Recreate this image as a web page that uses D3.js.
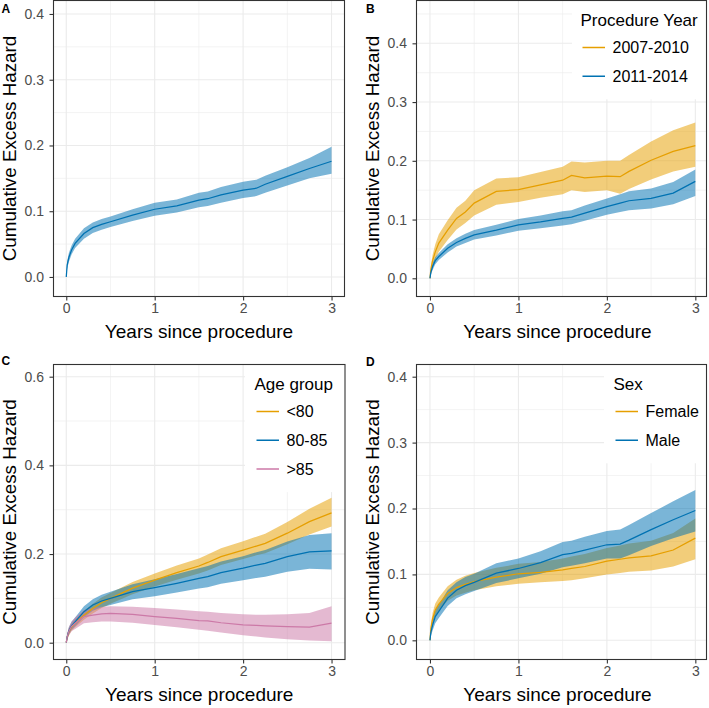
<!DOCTYPE html>
<html><head><meta charset="utf-8">
<script src="https://cdn.jsdelivr.net/npm/d3@7"></script>
<style>body{margin:0;background:#fff}svg{display:block}text{font-family:"Liberation Sans",Arial,Helvetica,sans-serif}</style>
</head><body>
<svg id="chart" width="709" height="708"></svg>
<script>
// ---------------- data ----------------
const times = [0, 0.01, 0.03, 0.06, 0.1, 0.2, 0.3, 0.4, 0.5, 0.75, 1.0, 1.25, 1.5, 1.6, 1.75, 2.0, 2.15, 2.25, 2.5, 2.75, 3.0];
const xTicks = [0, 1, 2, 3];
const yTicksSmall = [0, 0.1, 0.2, 0.3, 0.4];
const yTicksLarge = [0, 0.2, 0.4, 0.6];

// A: overall
const allEst = [0,0.018,0.030,0.041,0.051,0.066,0.075,0.080,0.084,0.094,0.103,0.108,0.117,0.119,0.125,0.132,0.135,0.141,0.153,0.165,0.176];
const allLo  = [0,0.012,0.023,0.034,0.044,0.058,0.067,0.072,0.076,0.085,0.093,0.098,0.106,0.108,0.113,0.120,0.123,0.128,0.139,0.150,0.157];
const allHi  = [0,0.024,0.037,0.048,0.058,0.074,0.083,0.088,0.092,0.103,0.113,0.118,0.128,0.130,0.137,0.145,0.148,0.154,0.167,0.181,0.198];

// B: procedure year
const yearLabels = ["2007-2010", "2011-2014"];
const y0710Est = [0,0.015,0.030,0.045,0.060,0.082,0.102,0.113,0.128,0.148,0.151,0.159,0.167,0.175,0.171,0.174,0.173,0.182,0.201,0.216,0.226];
const y0710Lo  = [0,0.008,0.020,0.032,0.045,0.065,0.083,0.094,0.107,0.125,0.130,0.137,0.143,0.150,0.147,0.150,0.144,0.152,0.168,0.182,0.190];
const y0710Hi  = [0,0.022,0.040,0.058,0.075,0.099,0.120,0.132,0.150,0.170,0.172,0.181,0.190,0.199,0.197,0.200,0.200,0.210,0.233,0.252,0.265];
const y1114Est = [0,0.010,0.020,0.030,0.037,0.051,0.061,0.068,0.074,0.082,0.091,0.096,0.102,0.104,0.111,0.122,0.128,0.132,0.136,0.145,0.165];
const y1114Lo  = [0,0.006,0.014,0.024,0.031,0.044,0.054,0.060,0.066,0.073,0.081,0.085,0.090,0.092,0.098,0.108,0.113,0.116,0.119,0.126,0.140];
const y1114Hi  = [0,0.014,0.026,0.036,0.043,0.058,0.068,0.076,0.082,0.091,0.101,0.107,0.114,0.116,0.124,0.136,0.143,0.148,0.153,0.164,0.185];

// C: age group
const ageLabels = ["<80", "80-85", ">85"];
const ageU80Est = [0,0.012,0.025,0.035,0.044,0.062,0.077,0.090,0.100,0.123,0.141,0.158,0.173,0.181,0.194,0.209,0.218,0.224,0.247,0.273,0.293];
const ageU80Lo  = [0,0.006,0.017,0.027,0.035,0.052,0.066,0.078,0.088,0.109,0.127,0.142,0.156,0.163,0.175,0.189,0.197,0.202,0.222,0.244,0.262];
const ageU80Hi  = [0,0.018,0.033,0.043,0.053,0.072,0.088,0.102,0.112,0.137,0.156,0.174,0.190,0.199,0.213,0.229,0.239,0.246,0.272,0.302,0.327];
const age8085Est = [0,0.013,0.027,0.038,0.047,0.070,0.085,0.094,0.100,0.115,0.124,0.134,0.145,0.149,0.158,0.168,0.175,0.179,0.194,0.205,0.207];
const age8085Lo  = [0,0.007,0.019,0.029,0.037,0.058,0.072,0.080,0.085,0.098,0.105,0.113,0.122,0.125,0.133,0.141,0.146,0.149,0.160,0.167,0.165];
const age8085Hi  = [0,0.019,0.035,0.047,0.057,0.082,0.098,0.108,0.115,0.132,0.143,0.155,0.168,0.173,0.183,0.195,0.204,0.209,0.228,0.243,0.247];
const ageO85Est = [0,0.013,0.026,0.037,0.044,0.059,0.062,0.065,0.066,0.064,0.059,0.055,0.050,0.049,0.045,0.040,0.039,0.038,0.036,0.035,0.044];
const ageO85Lo  = [0,0.006,0.016,0.026,0.031,0.044,0.046,0.048,0.048,0.045,0.040,0.035,0.029,0.027,0.023,0.017,0.014,0.012,0.008,0.005,0.003];
const ageO85Hi  = [0,0.020,0.036,0.048,0.057,0.074,0.078,0.081,0.082,0.081,0.078,0.075,0.071,0.070,0.067,0.064,0.063,0.063,0.064,0.067,0.082];

// D: sex
const sexLabels = ["Female", "Male"];
const femEst = [0,0.018,0.033,0.046,0.055,0.071,0.080,0.085,0.089,0.096,0.101,0.103,0.107,0.109,0.112,0.120,0.123,0.125,0.128,0.137,0.155];
const femLo  = [0,0.011,0.024,0.036,0.045,0.060,0.068,0.072,0.076,0.082,0.086,0.088,0.090,0.091,0.094,0.100,0.102,0.104,0.106,0.112,0.123];
const femHi  = [0,0.025,0.042,0.056,0.065,0.082,0.092,0.098,0.102,0.110,0.116,0.119,0.124,0.127,0.131,0.140,0.144,0.147,0.151,0.163,0.185];
const maleEst = [0,0.012,0.023,0.036,0.044,0.064,0.076,0.083,0.088,0.102,0.109,0.118,0.130,0.132,0.137,0.145,0.146,0.152,0.168,0.183,0.197];
const maleLo  = [0,0.006,0.015,0.026,0.034,0.052,0.064,0.070,0.075,0.087,0.094,0.101,0.111,0.113,0.117,0.124,0.124,0.129,0.143,0.155,0.165];
const maleHi  = [0,0.018,0.031,0.046,0.054,0.076,0.088,0.096,0.101,0.117,0.124,0.135,0.149,0.151,0.157,0.166,0.168,0.175,0.193,0.211,0.228];

const ORANGE = "#E69F00", BLUE = "#0072B2", PINK = "#CC79A7";

// ---------------- layout ----------------
const panels = [
  {letter:"A", lx:1.5, ly:12.5, xr:[53.0,344.8], box:[53.5,0.5,344.5,296.5], yd:[-0.0297,0.4205], yt:yTicksSmall,
   series:[{c:BLUE, e:allEst, l:allLo, h:allHi}], legend:null},
  {letter:"B", lx:366, ly:12.5, xr:[416.7,708.6], box:[416.5,0.5,706.5,296.5], yd:[-0.031,0.4729], yt:yTicksSmall,
   series:[{c:ORANGE, e:y0710Est, l:y0710Lo, h:y0710Hi},{c:BLUE, e:y1114Est, l:y1114Lo, h:y1114Hi}],
   legend:{title:"Procedure Year", labels:yearLabels, colors:[ORANGE,BLUE], x:581.5, boxX:572}},
  {letter:"C", lx:1.5, ly:365, xr:[53.0,344.8], box:[53.5,364.5,345,659.5], yd:[-0.0379,0.6275], yt:yTicksLarge,
   series:[{c:ORANGE, e:ageU80Est, l:ageU80Lo, h:ageU80Hi},{c:BLUE, e:age8085Est, l:age8085Lo, h:age8085Hi},{c:PINK, e:ageO85Est, l:ageO85Lo, h:ageO85Hi}],
   legend:{title:"Age group", labels:ageLabels, colors:[ORANGE,BLUE,PINK], x:255.5, boxX:245}},
  {letter:"D", lx:366, ly:366, xr:[416.7,708.6], box:[416.5,364.5,706.5,659.5], yd:[-0.0291,0.4185], yt:yTicksSmall,
   series:[{c:ORANGE, e:femEst, l:femLo, h:femHi},{c:BLUE, e:maleEst, l:maleLo, h:maleHi}],
   legend:{title:"Sex", labels:sexLabels, colors:[ORANGE,BLUE], x:614.5, boxX:604}}
];

const svg = d3.select("#chart");
const GRID = "#EBEBEB", INK = "#333333";

panels.forEach((p, pi) => {
  const [bx0, by0, bx1, by1] = p.box;
  const x = d3.scaleLinear().domain([-0.15, 3.15]).range(p.xr);
  const y = d3.scaleLinear().domain(p.yd).range([by1, by0]);
  const g = svg.append("g");
  const clipId = "clip" + pi;
  svg.append("clipPath").attr("id", clipId).append("rect")
    .attr("x", bx0).attr("y", by0).attr("width", bx1 - bx0).attr("height", by1 - by0);
  const inner = g.append("g").attr("clip-path", `url(#${clipId})`);
  inner.append("rect").attr("x", bx0).attr("y", by0).attr("width", bx1 - bx0).attr("height", by1 - by0).attr("fill", "#fff");

  // minor grid
  const step = p.yt[1] - p.yt[0];
  const yMinor = p.yt.map(v => v + step / 2).concat([p.yt[0] - step / 2]).filter(v => v > p.yd[0] && v < p.yd[1]);
  const xMinor = [0.5, 1.5, 2.5];
  inner.selectAll(".ym").data(yMinor).join("line")
    .attr("x1", bx0).attr("x2", bx1).attr("y1", d => y(d)).attr("y2", d => y(d))
    .attr("stroke", GRID).attr("stroke-width", 0.6);
  inner.selectAll(".xm").data(xMinor).join("line")
    .attr("y1", by0).attr("y2", by1).attr("x1", d => x(d)).attr("x2", d => x(d))
    .attr("stroke", GRID).attr("stroke-width", 0.6);
  // major grid
  inner.selectAll(".yM").data(p.yt).join("line")
    .attr("x1", bx0).attr("x2", bx1).attr("y1", d => y(d)).attr("y2", d => y(d))
    .attr("stroke", GRID).attr("stroke-width", 1.1);
  inner.selectAll(".xM").data(xTicks).join("line")
    .attr("y1", by0).attr("y2", by1).attr("x1", d => x(d)).attr("x2", d => x(d))
    .attr("stroke", GRID).attr("stroke-width", 1.1);

  // ribbons
  const area = d3.area().x((d) => x(d.t)).y0(d => y(d.l)).y1(d => y(d.h));
  const line = d3.line().x(d => x(d.t)).y(d => y(d.e));
  p.series.forEach(s => {
    const pts = times.map((t, i) => ({t, e:s.e[i], l:s.l[i], h:s.h[i]}));
    inner.append("path").datum(pts).attr("d", area).attr("fill", s.c).attr("fill-opacity", 0.52);
  });
  p.series.forEach(s => {
    const pts = times.map((t, i) => ({t, e:s.e[i], l:s.l[i], h:s.h[i]}));
    inner.append("path").datum(pts).attr("d", line).attr("fill", "none").attr("stroke", s.c).attr("stroke-width", 1.25);
  });

  // legend
  if (p.legend) {
    const L = p.legend;
    const n = L.labels.length;
    const rowY = i => by0 + 47 + i * 28.8;
    const boxBottom = rowY(n - 1) + 23;
    inner.append("rect").attr("x", L.boxX).attr("y", by0).attr("width", bx1 - L.boxX).attr("height", boxBottom - by0).attr("fill", "#fff");
    inner.append("text").attr("x", L.x - 1).attr("y", by0 + 19.3 + 6).attr("font-size", 17).attr("fill", "#000").text(L.title);
    L.labels.forEach((lab, i) => {
      inner.append("line").attr("x1", L.x + 1).attr("x2", L.x + 23.5).attr("y1", rowY(i)).attr("y2", rowY(i))
        .attr("stroke", L.colors[i]).attr("stroke-width", 1.5);
      inner.append("text").attr("x", L.x + 31).attr("y", rowY(i) + 5.7).attr("font-size", 16).attr("fill", "#000").text(lab);
    });
  }

  // border
  g.append("rect").attr("x", bx0).attr("y", by0).attr("width", bx1 - bx0).attr("height", by1 - by0)
    .attr("fill", "none").attr("stroke", INK).attr("stroke-width", 1.1);

  // axes
  const xa = g.append("g").attr("transform", `translate(0,${by1})`)
    .call(d3.axisBottom(x).tickValues(xTicks).tickFormat(d3.format("d")).tickSize(4).tickPadding(3));
  const ya = g.append("g").attr("transform", `translate(${bx0},0)`)
    .call(d3.axisLeft(y).tickValues(p.yt).tickFormat(d3.format(".1f")).tickSize(4).tickPadding(5.5));
  [xa, ya].forEach(a => {
    a.select(".domain").remove();
    a.selectAll(".tick line").attr("stroke", INK).attr("stroke-width", 1.1);
    a.selectAll(".tick text").attr("fill", "#4D4D4D").attr("font-size", 14)
      .attr("font-family", '"Liberation Sans",Arial,sans-serif');
  });

  // axis titles
  g.append("text").attr("x", (bx0 + bx1) / 2 + (pi % 2 ? -4 : 0)).attr("y", by1 + 41)
    .attr("text-anchor", "middle").attr("font-size", 19).attr("fill", "#000").text("Years since procedure");
  g.append("text").attr("transform", `translate(${bx0 - 38},${(by0 + by1) / 2}) rotate(-90)`)
    .attr("text-anchor", "middle").attr("font-size", 18.8).attr("fill", "#000").text("Cumulative Excess Hazard");

  // panel letter
  svg.append("text").attr("x", p.lx).attr("y", p.ly).attr("font-size", 12).attr("font-weight", "bold").attr("fill", "#000").text(p.letter);
});
</script>
</body></html>
